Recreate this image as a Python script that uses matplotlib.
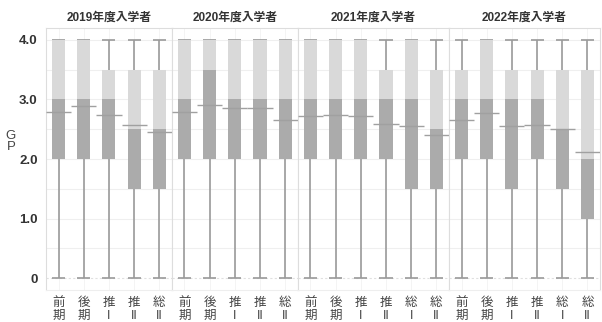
import matplotlib
matplotlib.use("Agg")
import matplotlib.pyplot as plt

plt.rcParams['font.family'] = ['Liberation Sans', 'Noto Sans CJK JP', 'DejaVu Sans']

# cohorts and the admission routes in each
years = ["2019年度入学者", "2020年度入学者", "2021年度入学者", "2022年度入学者"]
routes = [
    ["前\n期", "後\n期", "推\nI", "推\nII", "総\nII"],
    ["前\n期", "後\n期", "推\nI", "推\nII", "総\nII"],
    ["前\n期", "後\n期", "推\nI", "推\nII", "総\nI", "総\nII"],
    ["前\n期", "後\n期", "推\nI", "推\nII", "総\nI", "総\nII"],
]

# GP summary per route: min, Q1, median, Q3, max, mean
gp_min = [[0, 0, 0, 0, 0], [0, 0, 0, 0, 0], [0, 0, 0, 0, 0, 0], [0, 0, 0, 0, 0, 0]]
gp_q1 = [[2.0, 2.0, 2.0, 1.5, 1.5], [2.0, 2.0, 2.0, 2.0, 2.0],
         [2.0, 2.0, 2.0, 2.0, 1.5, 1.5], [2.0, 2.0, 1.5, 2.0, 1.5, 1.0]]
gp_med = [[3.0, 3.0, 3.0, 2.5, 2.5], [3.0, 3.5, 3.0, 3.0, 3.0],
          [3.0, 3.0, 3.0, 3.0, 3.0, 2.5], [3.0, 3.0, 3.0, 3.0, 2.5, 2.0]]
gp_q3 = [[4.0, 4.0, 3.5, 3.5, 3.5], [4.0, 4.0, 4.0, 4.0, 4.0],
         [4.0, 4.0, 4.0, 3.5, 4.0, 3.5], [3.5, 4.0, 3.5, 3.5, 3.5, 3.5]]
gp_max = [[4.0, 4.0, 4.0, 4.0, 4.0], [4.0, 4.0, 4.0, 4.0, 4.0],
          [4.0, 4.0, 4.0, 4.0, 4.0, 4.0], [4.0, 4.0, 4.0, 4.0, 4.0, 4.0]]
gp_mean = [[2.79, 2.89, 2.74, 2.57, 2.45], [2.79, 2.90, 2.86, 2.86, 2.65],
           [2.72, 2.74, 2.72, 2.59, 2.56, 2.40], [2.65, 2.78, 2.55, 2.57, 2.51, 2.12]]

dark = "#ababab"
light = "#d9d9d9"
line_col = "#9a9a9a"
text_col = "#333333"

fig, axes = plt.subplots(1, 4, figsize=(6.02, 3.22), dpi=100, sharey=True,
                         gridspec_kw={"width_ratios": [len(r) for r in routes], "wspace": 0})
fig.subplots_adjust(left=0.0764, right=0.9967, bottom=0.0994, top=0.913)

bw = 0.52
for k, ax in enumerate(axes):
    n = len(routes[k])
    xs = list(range(n))
    # grid behind everything
    for y in [0.5, 1.0, 1.5, 2.0, 2.5, 3.0, 3.5, 4.0]:
        ax.axhline(y, color="#efefef", lw=0.8, zorder=0)
    ax.axhline(0, color="#e0e0e0", lw=0.8, ls=(0, (2, 2)), zorder=0)
    for x in xs:
        ax.axvline(x, color="#f2f2f2", lw=0.6, zorder=0)

    lo = [gp_med[k][i] - gp_q1[k][i] for i in xs]
    hi = [gp_q3[k][i] - gp_med[k][i] for i in xs]
    # whiskers with caps
    ax.vlines(xs, gp_min[k], gp_q1[k], color=line_col, lw=1.2, zorder=1)
    ax.vlines(xs, gp_q3[k], gp_max[k], color=line_col, lw=1.2, zorder=1)
    for i in xs:
        ax.hlines([gp_min[k][i], gp_max[k][i]], i - bw / 2, i + bw / 2, color=line_col, lw=1.2, zorder=1)
    # two-tone box: Q1-median darker, median-Q3 lighter
    ax.bar(xs, lo, bottom=gp_q1[k], width=bw, color=dark, zorder=2)
    ax.bar(xs, hi, bottom=gp_med[k], width=bw, color=light, zorder=2)
    # mean markers spanning the slot
    for i in xs:
        ax.hlines(gp_mean[k][i], i - 0.5, i + 0.5, color="#a0a0a0", lw=1.0, zorder=3)

    ax.set_xlim(-0.5, n - 0.5)
    ax.set_ylim(-0.2, 4.2)
    ax.set_xticks(xs)
    ax.set_xticklabels(routes[k], fontsize=9, color="#444444", linespacing=1.15)
    ax.tick_params(axis="x", length=0, pad=5)
    ax.tick_params(axis="y", length=0)
    ax.set_title(years[k], fontsize=8.5, color=text_col, pad=5, fontweight="bold")
    for side in ["left", "right"]:
        ax.spines[side].set_color("#dddddd")
        ax.spines[side].set_linewidth(0.8)
    ax.spines["top"].set_color("#dddddd")
    ax.spines["top"].set_linewidth(0.8)
    ax.spines["bottom"].set_color("#eeeeee")
    ax.spines["bottom"].set_linewidth(0.8)

axes[0].set_yticks([0, 1, 2, 3, 4])
axes[0].set_yticklabels(["0", "1.0", "2.0", "3.0", "4.0"], fontsize=9.5, color=text_col, fontweight="bold")
axes[0].tick_params(axis="y", pad=6)
fig.text(0.018, 0.56, "G\nP", fontsize=9.5, color="#444444", ha="center", va="center", linespacing=0.95)

fig.savefig("out.png", dpi=100)
